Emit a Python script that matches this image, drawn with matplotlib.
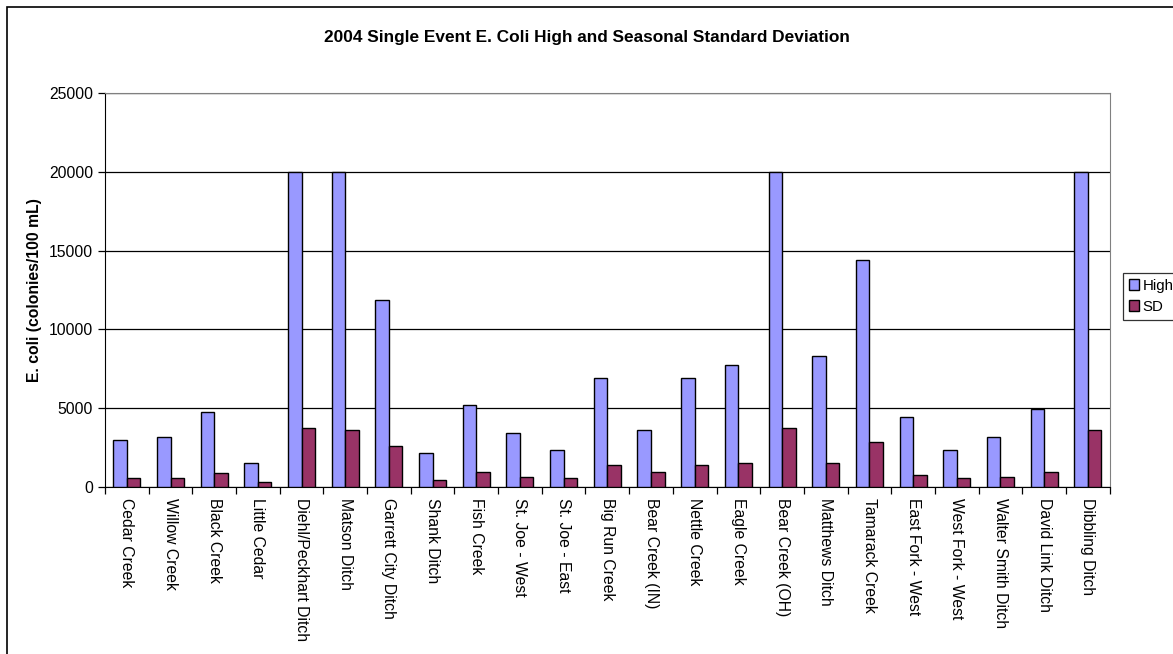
import numpy as np
import matplotlib.pyplot as plt
from matplotlib.patches import Rectangle
from matplotlib.ticker import FixedLocator

plt.rcParams['font.family'] = ['Liberation Sans', 'DejaVu Sans']

sites = ["Cedar Creek", "Willow Creek", "Black Creek", "Little Cedar",
         "Diehl/Peckhart Ditch", "Matson Ditch", "Garrett City Ditch",
         "Shank Ditch", "Fish Creek", "St. Joe - West", "St. Joe - East",
         "Big Run Creek", "Bear Creek (IN)", "Nettle Creek", "Eagle Creek",
         "Bear Creek (OH)", "Matthews Ditch", "Tamarack Creek",
         "East Fork - West", "West Fork - West", "Walter Smith Ditch",
         "David Link Ditch", "Dibbling Ditch"]
high = [3000, 3150, 4760, 1540, 20000, 20000, 11830, 2140, 5230, 3400, 2330,
        6900, 3620, 6900, 7750, 20000, 8320, 14410, 4440, 2330, 3150, 4970,
        20000]
sd = [570, 570, 870, 320, 3770, 3600, 2620, 420, 930, 610, 570,
      1400, 930, 1400, 1550, 3770, 1540, 2860, 760, 570, 610, 930, 3600]

fig = plt.figure(figsize=(11.73, 6.54), dpi=100)
ax = fig.add_axes([0.0895, 0.2554, 0.8565, 0.6026])

x = np.arange(len(sites))
w = 0.31
ax.bar(x - w / 2, high, w, color="#9999FF", edgecolor="black", linewidth=1,
       label="High", zorder=3)
ax.bar(x + w / 2, sd, w, color="#993366", edgecolor="black", linewidth=1,
       label="SD", zorder=3)

ax.set_xlim(-0.5, len(sites) - 0.5)
ax.set_ylim(0, 25000)
ax.set_yticks(range(0, 25001, 5000))
ax.yaxis.grid(True, color="black", linewidth=0.9, zorder=0)

ax.set_xticks(x)
ax.set_xticklabels(sites, rotation=270, fontsize=11.3)
ax.xaxis.set_minor_locator(FixedLocator(np.arange(-0.5, len(sites), 1)))
ax.tick_params(axis="x", which="major", length=0, pad=8)
ax.tick_params(axis="x", which="minor", length=5, width=0.9)
ax.tick_params(axis="y", length=5, width=0.9, labelsize=11.3)

for s in ["top", "right"]:
    ax.spines[s].set_color("#808080")
for s in ["left", "bottom"]:
    ax.spines[s].set_color("black")

ax.set_ylabel("E. coli (colonies/100 mL)", fontsize=11.3, fontweight="bold",
              labelpad=5)
fig.text(0.5, 0.942, "2004 Single Event E. Coli High and Seasonal Standard Deviation",
         ha="center", va="center", fontsize=12.4, fontweight="bold")

leg = ax.legend(loc="upper left", bbox_to_anchor=(0.957, 0.5826),
                bbox_transform=fig.transFigure, fontsize=10.8, frameon=True,
                fancybox=False, edgecolor="black", handlelength=0.7,
                handleheight=0.7, handletextpad=0.25, borderpad=0.4,
                labelspacing=0.45, borderaxespad=0)
leg.get_frame().set_linewidth(0.9)

# outer chart border
fig.patches.append(Rectangle((7 / 1173, -0.1), 1.2, 1 - 7 / 654 + 0.1,
                             transform=fig.transFigure, fill=False,
                             edgecolor="black", linewidth=1.2))

fig.savefig("out.png", dpi=100)
